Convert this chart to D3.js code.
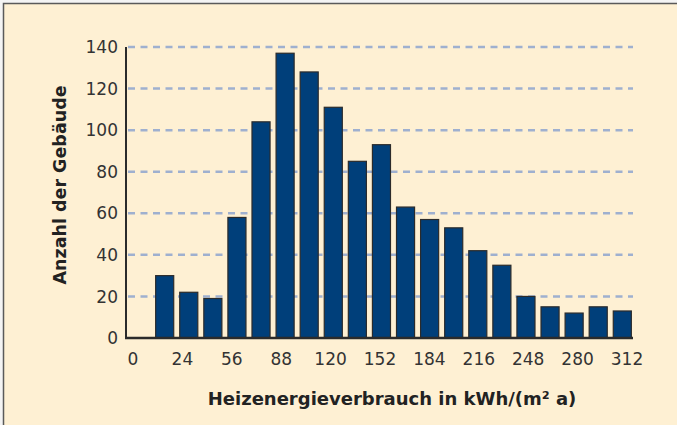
<!DOCTYPE html>
<html>
<head>
<meta charset="utf-8">
<script src="https://cdn.jsdelivr.net/npm/d3@7"></script>
<style>
  html, body { margin: 0; padding: 0; background: #f4f4f4; }
  svg { display: block; }
</style>
</head>
<body>
<div class="chart"></div>
<script>
var categories = ["0", "1", "2", "3", "4", "5", "6", "7", "8", "9", "10",
                  "11", "12", "13", "14", "15", "16", "17", "18", "19", "20"];
var counts = [0, 30, 22, 19, 58, 104, 137, 128, 111, 85, 93,
              63, 57, 53, 42, 35, 20, 15, 12, 15, 13];
var x_tick_labels = ["0", "24", "56", "88", "120", "152", "184", "216", "248", "280", "312"];
var y_ticks = [0, 20, 40, 60, 80, 100, 120, 140];
var y_title = "Anzahl der Gebäude";
var x_title = "Heizenergieverbrauch in kWh/(m² a)";

var width = 677,
    height = 425,
    plot_left = 126,
    plot_right = 633,
    plot_top = 47,
    plot_bottom = 338;

var svg = d3.select(".chart")
    .append("svg")
    .attr("width", width)
    .attr("height", height);

// frame
svg.append("rect")
    .attr("x", 3).attr("y", 3)
    .attr("width", width - 3).attr("height", height - 3)
    .attr("fill", "#fef0d3");
svg.append("path")
    .attr("d", "M3.5," + height + "V3.5H" + width)
    .attr("fill", "none")
    .attr("stroke", "#5a5a5a")
    .attr("stroke-width", 1.5);

var x = d3.scaleBand()
    .domain(categories)
    .range([plot_left, plot_right])
    .paddingInner(0.25)
    .paddingOuter(0.15)
    .align(0.77);

var x_labels = d3.scalePoint()
    .domain(x_tick_labels)
    .range([plot_left + 7, plot_right - 6]);

var y = d3.scaleLinear()
    .domain([0, 140])
    .range([plot_bottom, plot_top]);

// grid
svg.append("g")
    .selectAll("line")
    .data(y_ticks.filter(function (d) { return d > 0; }))
    .join("line")
    .attr("x1", plot_left + 2)
    .attr("x2", plot_right)
    .attr("y1", function (d) { return y(d); })
    .attr("y2", function (d) { return y(d); })
    .attr("stroke", "#9fb0cf")
    .attr("stroke-width", 2.5)
    .attr("stroke-dasharray", "7,5.5");

// bars
var bar_data = categories.map(function (c, i) { return { cat: c, value: counts[i] }; })
    .filter(function (d) { return d.value > 0; });

svg.append("g")
    .selectAll("rect")
    .data(bar_data)
    .join("rect")
    .attr("x", function (d) { return x(d.cat); })
    .attr("width", x.bandwidth())
    .attr("y", function (d) { return y(d.value); })
    .attr("height", function (d) { return y(0) - y(d.value); })
    .attr("fill", "#003f7a")
    .attr("stroke", "#2b2b2b")
    .attr("stroke-width", 1.2);

// axes
svg.append("line")
    .attr("x1", plot_left).attr("x2", plot_left)
    .attr("y1", plot_top).attr("y2", plot_bottom + 1)
    .attr("stroke", "#2b2b2b").attr("stroke-width", 2);
svg.append("line")
    .attr("x1", plot_left - 1).attr("x2", plot_right)
    .attr("y1", plot_bottom).attr("y2", plot_bottom)
    .attr("stroke", "#2b2b2b").attr("stroke-width", 2.5);

var tick_font = "'DejaVu Sans', sans-serif";

svg.append("g")
    .selectAll("text")
    .data(y_ticks)
    .join("text")
    .attr("x", plot_left - 8)
    .attr("y", function (d) { return y(d); })
    .attr("dy", "0.36em")
    .attr("text-anchor", "end")
    .attr("font-family", tick_font)
    .attr("font-size", 17)
    .attr("fill", "#333")
    .text(function (d) { return d; });

svg.append("g")
    .selectAll("text")
    .data(x_tick_labels)
    .join("text")
    .attr("x", function (d) { return x_labels(d); })
    .attr("y", plot_bottom + 27)
    .attr("text-anchor", "middle")
    .attr("font-family", tick_font)
    .attr("font-size", 17)
    .attr("fill", "#333")
    .text(function (d) { return d; });

svg.append("text")
    .attr("transform", "translate(66,185) rotate(-90)")
    .attr("text-anchor", "middle")
    .attr("font-family", tick_font)
    .attr("font-weight", "bold")
    .attr("font-size", 17.5)
    .attr("fill", "#222")
    .text(y_title);

svg.append("text")
    .attr("x", 392)
    .attr("y", 405)
    .attr("text-anchor", "middle")
    .attr("font-family", tick_font)
    .attr("font-weight", "bold")
    .attr("font-size", 18)
    .attr("fill", "#222")
    .text(x_title);
</script>
</body>
</html>
